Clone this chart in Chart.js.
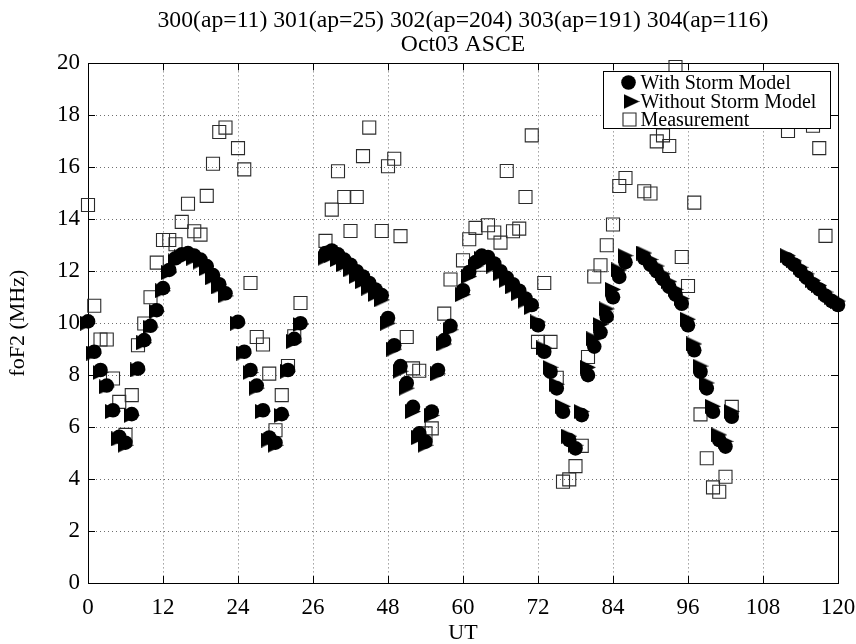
<!DOCTYPE html>
<html>
<head>
<meta charset="utf-8">
<script src="https://cdn.jsdelivr.net/npm/chart.js@4.4.1/dist/chart.umd.min.js"></script>
<style>
  html, body { margin: 0; padding: 0; background: #fff; }
  #wrap { width: 856px; height: 644px; }
</style>
</head>
<body>
<div id="wrap"><canvas id="fof2Chart" width="856" height="644"></canvas></div>
<script>
// hourly UT samples (days 300-304), model runs and ionosonde readings
const hours = [
  0, 1, 2, 3, 4, 5, 6, 7, 8, 9, 10, 11, 12, 13, 14, 15, 16, 17, 18, 19, 20, 21, 22,
  24, 25, 26, 27, 28, 29, 30, 31, 32, 33, 34,
  38, 39, 40, 41, 42, 43, 44, 45, 46, 47,
  48, 49, 50, 51, 52, 53, 54, 55, 56, 57, 58,
  60, 61, 62, 63, 64, 65, 66, 67, 68, 69, 70, 71,
  72, 73, 74, 75, 76, 77, 78, 79, 80, 81, 82, 83, 84, 85, 86,
  89, 90, 91, 92, 93, 94, 95,
  96, 97, 98, 99, 100, 101, 102, 103,
  112, 113, 114, 115, 116, 117, 118, 119, 120
];
const withStorm = [
  10.07, 8.9, 8.2, 7.6, 6.65, 5.63, 5.4, 6.5, 8.25, 9.35, 9.9, 10.5, 11.35, 12.05, 12.5, 12.65, 12.7, 12.6, 12.45, 12.2, 11.85, 11.5, 11.15,
  10.05, 8.9, 8.2, 7.6, 6.65, 5.6, 5.4, 6.5, 8.2, 9.4, 10.0,
  12.7, 12.8, 12.65, 12.45, 12.25, 12.0, 11.8, 11.55, 11.3, 11.08,
  10.2, 9.15, 8.35, 7.7, 6.78, 5.76, 5.44, 6.6, 8.2, 9.35, 9.9,
  11.27, 11.97, 12.35, 12.6, 12.55, 12.3, 12.0, 11.75, 11.5, 11.25, 10.95, 10.7,
  9.92, 8.9, 8.13, 7.49, 6.59, 5.5, 5.18, 6.46, 8.0, 9.1, 9.65, 10.25, 11.0, 11.78, 12.35,
  12.5, 12.25, 12.0, 11.7, 11.4, 11.1, 10.75,
  9.92, 8.96, 8.13, 7.49, 6.59, 5.5, 5.25, 6.4,
  12.45, 12.25, 12.0, 11.75, 11.5, 11.3, 11.05, 10.85, 10.7
];
const withoutStorm = [
  10.0, 8.85, 8.1, 7.55, 6.6, 5.55, 5.3, 6.45, 8.2, 9.25, 9.85, 10.45, 11.25, 11.95, 12.4, 12.55, 12.6, 12.5, 12.35, 12.1, 11.75, 11.4, 11.05,
  10.0, 8.85, 8.1, 7.5, 6.6, 5.5, 5.3, 6.45, 8.15, 9.3, 9.95,
  12.5, 12.6, 12.45, 12.25, 12.05, 11.8, 11.6, 11.35, 11.1, 10.9,
  10.0, 9.0, 8.15, 7.5, 6.6, 5.6, 5.3, 6.45, 8.05, 9.2, 9.75,
  11.1, 11.8, 12.2, 12.5, 12.45, 12.2, 11.9, 11.65, 11.4, 11.15, 10.85, 10.6,
  10.05, 9.05, 8.3, 7.65, 6.8, 5.65, 5.3, 6.6, 8.3, 9.4, 9.95, 10.55, 11.3, 12.05, 12.6,
  12.7, 12.45, 12.2, 11.9, 11.6, 11.3, 10.95,
  10.15, 9.2, 8.35, 7.7, 6.8, 5.7, 5.45, 6.6,
  12.6, 12.4, 12.15, 11.9, 11.65, 11.45, 11.2, 11.0, 10.85
];
const measured = [
  14.55, 10.67, 9.37, 9.37, 7.87, 6.97, 5.7, 7.23, 9.15, 9.99, 11.0, 12.33, 13.2, 13.2, 13.04, 13.9, 14.6, 13.54, 13.41, 14.9, 16.14, 17.36, 17.53,
  16.74, 15.92, 11.55, 9.47, 9.18, 8.06, 5.88, 7.23, 8.35, 9.5, 10.78,
  13.17, 14.37, 15.85, 14.86, 13.55, 14.86, 16.43, 17.53, null, 13.55,
  16.04, 16.33, 13.35, 9.47, 8.26, 8.17, 5.76, 5.95, null, 10.37, 11.68,
  12.42, 13.23, 13.67, 12.25, 13.77, 13.49, 13.1, 15.86, 13.54, 13.64, 14.86, 17.23,
  9.28, 11.55, 9.28, 7.9, 3.9, 3.99, 4.5, 5.28, 8.7, 11.8, 12.23, 13.0, 13.8, 15.28, 15.59,
  15.08, 14.99, 17.0, 17.23, 16.82, 19.86, 12.55,
  11.43, 14.64, 6.49, 4.8, 3.68, 3.51, 4.09, 6.78,
  17.4, null, null, null, 17.6, 16.74, 13.36, null, null
];
const xTickLabels = ['0', '12', '24', '26', '48', '60', '72', '84', '96', '108', '120'];
const titleLines = ['300(ap=11) 301(ap=25) 302(ap=204) 303(ap=191) 304(ap=116)', 'Oct03 ASCE'];
const seriesNames = ['With Storm Model', 'Without Storm Model', 'Measurement'];

const SERIF = '"Liberation Serif", "DejaVu Serif", "Times New Roman", serif';

function toPoints(values) {
  const pts = [];
  hours.forEach((h, i) => {
    if (values[i] !== null) pts.push({ x: h, y: values[i] });
  });
  return pts;
}

// right-pointing filled triangle used as a marker
function makeTriangle(w, h) {
  const c = document.createElement('canvas');
  c.width = w;
  c.height = h;
  const g = c.getContext('2d');
  g.fillStyle = '#000';
  g.beginPath();
  g.moveTo(0, 0);
  g.lineTo(0, h);
  g.lineTo(w, h / 2);
  g.closePath();
  g.fill();
  return c;
}
const triangleMark = makeTriangle(16, 15);

// axes box with inward ticks on all four sides
const axesBox = {
  id: 'axesBox',
  beforeDatasetsDraw(chart) {
    const { ctx, chartArea: a, scales } = chart;
    const len = 7;
    ctx.save();
    ctx.strokeStyle = '#000';
    ctx.lineWidth = 1;
    ctx.strokeRect(Math.round(a.left) + 0.5, Math.round(a.top) + 0.5,
      Math.round(a.right - a.left), Math.round(a.bottom - a.top));
    ctx.beginPath();
    scales.x.ticks.forEach(t => {
      const px = Math.round(scales.x.getPixelForValue(t.value)) + 0.5;
      ctx.moveTo(px, a.bottom); ctx.lineTo(px, a.bottom - len);
      ctx.moveTo(px, a.top); ctx.lineTo(px, a.top + len);
    });
    scales.y.ticks.forEach(t => {
      const py = Math.round(scales.y.getPixelForValue(t.value)) + 0.5;
      ctx.moveTo(a.left, py); ctx.lineTo(a.left + len, py);
      ctx.moveTo(a.right, py); ctx.lineTo(a.right - len, py);
    });
    ctx.stroke();
    ctx.restore();
  }
};

// boxed legend in the upper right corner of the plot
const legendBox = {
  id: 'legendBox',
  afterDatasetsDraw(chart) {
    const { ctx, chartArea: a } = chart;
    const x0 = Math.round(a.right - 235) + 0.5;
    const y0 = Math.round(a.top + 8) + 0.5;
    const w = 227, h = 57;
    ctx.save();
    ctx.fillStyle = '#fff';
    ctx.fillRect(x0, y0, w, h);
    ctx.strokeStyle = '#000';
    ctx.lineWidth = 1;
    ctx.strokeRect(x0, y0, w, h);
    const rows = [y0 + 11, y0 + 30, y0 + 48];
    const markX = [x0 + 25, x0 + 28, x0 + 26];
    chart.data.datasets.forEach((ds, i) => {
      ctx.fillStyle = ds.backgroundColor;
      ctx.strokeStyle = ds.borderColor;
      ctx.lineWidth = ds.borderWidth || 1;
      Chart.helpers.drawPoint(ctx, {
        pointStyle: ds.pointStyle,
        radius: ds.pointRadius,
        borderWidth: ds.borderWidth
      }, markX[i], rows[i]);
    });
    ctx.fillStyle = '#000';
    ctx.font = '20px ' + SERIF;
    ctx.textBaseline = 'middle';
    ctx.textAlign = 'left';
    seriesNames.forEach((name, i) => ctx.fillText(name, x0 + 37, rows[i] + 1));
    ctx.restore();
  }
};

const ctx = document.getElementById('fof2Chart').getContext('2d');
new Chart(ctx, {
  type: 'scatter',
  data: {
    datasets: [
      {
        label: seriesNames[0],
        data: toPoints(withStorm),
        pointStyle: 'circle',
        pointRadius: 7.3,
        backgroundColor: '#000',
        borderColor: '#000',
        borderWidth: 0,
        clip: false,
        order: 1
      },
      {
        label: seriesNames[1],
        data: toPoints(withoutStorm),
        pointStyle: triangleMark,
        pointRadius: 8,
        backgroundColor: '#000',
        borderColor: '#000',
        borderWidth: 0,
        clip: false,
        order: 2
      },
      {
        label: seriesNames[2],
        data: toPoints(measured),
        pointStyle: 'rect',
        pointRadius: 9.2,
        backgroundColor: 'rgba(0,0,0,0)',
        borderColor: '#2b2b2b',
        borderWidth: 1.1,
        clip: false,
        order: 3
      }
    ]
  },
  options: {
    responsive: false,
    animation: false,
    events: [],
    layout: { padding: { top: 0, right: 18, bottom: 0, left: 0 } },
    plugins: {
      legend: { display: false },
      tooltip: { enabled: false },
      title: {
        display: true,
        text: titleLines,
        fullSize: false,
        color: '#000',
        font: { family: SERIF, size: 23.7, weight: 'normal', lineHeight: 1.0 },
        padding: { top: 9, bottom: 7 }
      }
    },
    scales: {
      x: {
        type: 'linear',
        min: 0,
        max: 120,
        ticks: {
          stepSize: 12,
          autoSkip: false,
          maxRotation: 0,
          padding: 11,
          color: '#000',
          font: { family: SERIF, size: 23 },
          callback: (v, i) => xTickLabels[i]
        },
        grid: { color: '#6f6f6f', lineWidth: 1, drawTicks: false },
        border: { display: false, dash: [1, 3] },
        title: {
          display: true,
          text: 'UT',
          color: '#000',
          font: { family: SERIF, size: 22, lineHeight: 1.0 },
          padding: 0
        },
        afterFit(scale) {
          scale.height = 61;
          scale.paddingLeft = 0;
          scale.paddingRight = 0;
        }
      },
      y: {
        min: 0,
        max: 20,
        ticks: {
          stepSize: 2,
          padding: 8,
          color: '#000',
          font: { family: SERIF, size: 23 }
        },
        grid: { color: '#6f6f6f', lineWidth: 1, drawTicks: false },
        border: { display: false, dash: [1, 3] },
        title: {
          display: true,
          text: 'foF2 (MHz)',
          color: '#000',
          font: { family: SERIF, size: 22, lineHeight: 1.2 },
          padding: { top: 5, bottom: 0 }
        },
        afterFit(scale) {
          scale.width = 88;
          scale.paddingTop = 0;
          scale.paddingBottom = 0;
        }
      }
    }
  },
  plugins: [axesBox, legendBox]
});
</script>
</body>
</html>
